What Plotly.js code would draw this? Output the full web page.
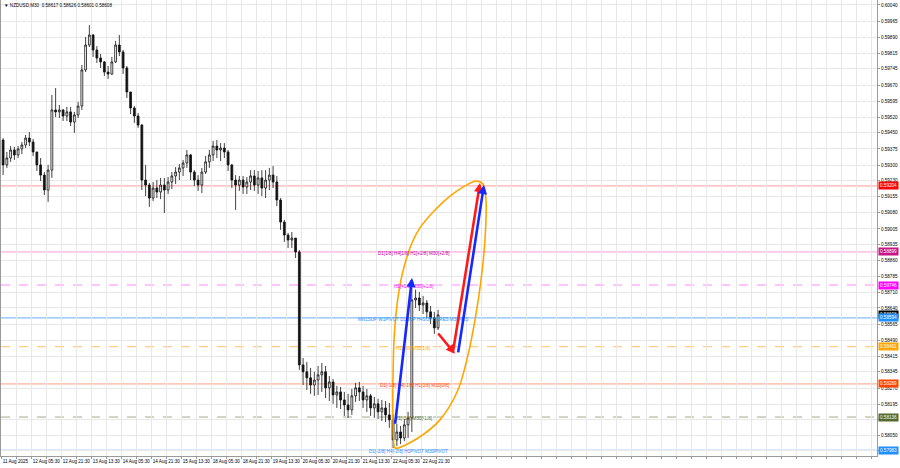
<!DOCTYPE html>
<html><head><meta charset="utf-8">
<script src="https://cdn.plot.ly/plotly-3.0.1.min.js"></script>
<style>html,body{margin:0;padding:0;background:#fff;}#chart{width:900px;height:468px;}</style>
</head><body><div id="chart"></div>
<script>
// ---- data ----
const symbol = "NZDUSD,M30";
const lastBarOHLC = [0.58617, 0.58626, 0.58601, 0.58608];
const barsPerCandle = 4;
const open = [0.59416,0.59301,0.59333,0.59370,0.59347,0.59375,0.59393,0.59425,0.59407,0.59361,
0.59301,0.59254,0.59185,0.59277,0.59555,0.59546,0.59555,0.59527,0.59546,0.59499,
0.59532,0.59573,0.59740,0.59855,0.59901,0.59832,0.59795,0.59777,0.59730,0.59721,
0.59777,0.59855,0.59823,0.59749,0.59638,0.59564,0.59527,0.59485,0.59231,0.59208,
0.59148,0.59194,0.59176,0.59208,0.59185,0.59222,0.59250,0.59268,0.59287,0.59310,
0.59347,0.59268,0.59231,0.59208,0.59268,0.59315,0.59347,0.59388,0.59370,0.59379,
0.59361,0.59301,0.59231,0.59208,0.59231,0.59199,0.59222,0.59250,0.59208,0.59241,
0.59194,0.59231,0.59254,0.59222,0.59139,0.59037,0.58977,0.58954,0.58963,0.58899,
0.58377,0.58345,0.58317,0.58284,0.58307,0.58331,0.58345,0.58271,0.58298,0.58238,
0.58252,0.58215,0.58192,0.58169,0.58234,0.58271,0.58252,0.58215,0.58234,0.58178,
0.58197,0.58160,0.58178,0.58146,0.58123,0.58030,0.58067,0.58039,0.58100,0.58132,
0.58677,0.58686,0.58654,0.58663,0.58622,0.58594,0.58548];
const high = [0.59425,0.59361,0.59388,0.59384,0.59388,0.59407,0.59439,0.59453,0.59421,0.59361,
0.59333,0.59268,0.59301,0.59624,0.59656,0.59578,0.59559,0.59569,0.59569,0.59546,
0.59592,0.59763,0.59892,0.59947,0.59906,0.59850,0.59814,0.59781,0.59758,0.59800,
0.59874,0.59901,0.59832,0.59758,0.59638,0.59573,0.59541,0.59490,0.59301,0.59218,
0.59222,0.59231,0.59241,0.59241,0.59245,0.59268,0.59291,0.59305,0.59324,0.59370,
0.59351,0.59277,0.59254,0.59287,0.59342,0.59370,0.59412,0.59416,0.59402,0.59402,
0.59370,0.59305,0.59254,0.59250,0.59250,0.59245,0.59277,0.59277,0.59273,0.59277,
0.59277,0.59287,0.59296,0.59250,0.59148,0.59047,0.58987,0.58991,0.58963,0.58908,
0.58409,0.58391,0.58363,0.58345,0.58372,0.58386,0.58372,0.58326,0.58312,0.58280,
0.58275,0.58252,0.58243,0.58266,0.58294,0.58298,0.58280,0.58266,0.58243,0.58229,
0.58220,0.58215,0.58210,0.58201,0.58150,0.58104,0.58095,0.58127,0.58160,0.58735,
0.58725,0.58714,0.58695,0.58677,0.58649,0.58622,0.58631];
const low = [0.59254,0.59287,0.59315,0.59324,0.59333,0.59351,0.59379,0.59388,0.59342,0.59273,
0.59227,0.59162,0.59130,0.59241,0.59522,0.59518,0.59504,0.59504,0.59481,0.59449,
0.59518,0.59555,0.59730,0.59846,0.59800,0.59772,0.59749,0.59712,0.59698,0.59716,
0.59772,0.59804,0.59721,0.59610,0.59536,0.59495,0.59472,0.59185,0.59157,0.59107,
0.59134,0.59148,0.59143,0.59079,0.59167,0.59190,0.59213,0.59231,0.59250,0.59287,
0.59231,0.59204,0.59181,0.59171,0.59259,0.59287,0.59319,0.59333,0.59319,0.59333,
0.59273,0.59194,0.59093,0.59181,0.59167,0.59167,0.59185,0.59181,0.59167,0.59157,
0.59148,0.59185,0.59194,0.59111,0.59001,0.58945,0.58917,0.58917,0.58871,0.58354,
0.58284,0.58261,0.58243,0.58234,0.58238,0.58252,0.58224,0.58210,0.58197,0.58178,
0.58173,0.58141,0.58132,0.58146,0.58206,0.58210,0.58178,0.58160,0.58141,0.58132,
0.58127,0.58118,0.58113,0.58086,0.57993,0.58002,0.58011,0.58025,0.58039,0.58067,
0.58640,0.58626,0.58612,0.58594,0.58566,0.58520,0.58538];
const close = [0.59301,0.59333,0.59370,0.59347,0.59375,0.59393,0.59425,0.59407,0.59361,0.59301,
0.59254,0.59185,0.59277,0.59555,0.59546,0.59555,0.59527,0.59546,0.59499,0.59532,
0.59573,0.59740,0.59855,0.59901,0.59832,0.59795,0.59777,0.59730,0.59721,0.59777,
0.59855,0.59823,0.59749,0.59638,0.59564,0.59527,0.59485,0.59231,0.59208,0.59148,
0.59194,0.59176,0.59208,0.59185,0.59222,0.59250,0.59268,0.59287,0.59310,0.59347,
0.59268,0.59231,0.59208,0.59268,0.59315,0.59347,0.59388,0.59370,0.59379,0.59361,
0.59301,0.59231,0.59208,0.59231,0.59199,0.59222,0.59250,0.59208,0.59241,0.59194,
0.59231,0.59254,0.59222,0.59139,0.59037,0.58977,0.58954,0.58963,0.58899,0.58377,
0.58345,0.58317,0.58284,0.58307,0.58331,0.58345,0.58271,0.58298,0.58238,0.58252,
0.58215,0.58192,0.58169,0.58234,0.58271,0.58252,0.58215,0.58234,0.58178,0.58197,
0.58160,0.58178,0.58146,0.58123,0.58030,0.58067,0.58039,0.58100,0.58132,0.58677,
0.58686,0.58654,0.58663,0.58622,0.58594,0.58548,0.58608];

const dateLabels = ["11 Aug 2025","12 Aug 05:30","12 Aug 21:30","13 Aug 13:30","14 Aug 05:30","14 Aug 21:30","15 Aug 13:30","18 Aug 05:30","18 Aug 21:30","19 Aug 13:30","20 Aug 05:30","20 Aug 21:30","21 Aug 13:30","22 Aug 05:30","22 Aug 21:30"];
const priceTicks = [0.60040,0.59965,0.59890,0.59815,0.59745,0.59670,0.59595,0.59520,0.59450,0.59375,0.59300,0.59230,0.59155,0.59080,0.59005,0.58935,0.58860,0.58785,0.58710,0.58640,0.58565,0.58490,0.58415,0.58345,0.58270,0.58195,0.58125,0.58050,0.57980];
const hiddenTicks = [0.58125, 0.57980];   // covered by level boxes in the original

const levelPrices = [0.59204, 0.58899, 0.58746, 0.58594, 0.58461, 0.58289, 0.58136, 0.57983];
const levelNames = ["", "D1[1/8] H4[1/8] H1[+2/8] M30[+2/8]", "H1[+1/8] M30[+1/8]", "MN1SUP W1PIVOT D1SUP H4SUP H1RES M30RES", "H1[1/8] M30[1/8]", "D1[-1/8] H4[-1/8] H1[0/8] M30[0/8]", "H1[-1/8] M30[-1/8]", "D1[-2/8] H4[-2/8] H1PIVOT M30PIVOT"];
const levelLabelBar = [0, 440, 439, 439, 439, 440, 439, 434];

// projection drawing (bar index, price)
const ellipseBar = [419.5,417.4,417.4,418.5,421.7,425.9,435.5,446.1,462.2,478.2,494.2,505.9,513.4,516.6,515.5,511.3,504.9,497.4,486.7,467.5,444.1,422.7,419.5];
const ellipsePrice = [0.57993,0.58123,0.58307,0.58492,0.58654,0.58769,0.58917,0.59010,0.59093,0.59157,0.59204,0.59227,0.59213,0.59139,0.58954,0.58769,0.58585,0.58423,0.58261,0.58123,0.58039,0.57993,0.57993];
const arrowTailBar = [419.5, 464.3, 481.4, 486.7];
const arrowTailPrice = [0.58098, 0.58529, 0.58437, 0.58428];
const arrowHeadBar = [437.7, 483.5, 510.2, 514.4];
const arrowHeadPrice = [0.58779, 0.58428, 0.59218, 0.59208];

// ---- styles ----
const levelLineColors = ['#ff9c9c','#ff9ad8','#ff8cff','#6aaeff','#ffc060','#ffa080','#a8aa88','#8cc0ff'];
const levelDash = ['solid','solid','dash','solid','dash','solid','dash','solid'];
const levelTextColors = ['#ff0000','#c000a0','#ff00ff','#1e90ff','#ffa500','#ff4500','#556b2f','#1e90ff'];
const levelBoxColors = ['#ff0000','#c71585','#ff00ff','#1e90ff','#ffa500','#ff4500','#556b2f','#1e90ff'];
const arrowColors = ['#1428ff','#ff1a1a','#ff1a1a','#1428ff'];
const FONT = '"Liberation Sans", Arial, sans-serif';
const FS = 4.6;

const candleBar = open.map((_, i) => i * barsPerCandle + 1.5);

const xMin = -0.75, xMax = 933.7;
const tickvals = [], ticktext = [];
for (let b = 0, i = 0; b <= xMax; b += 16, i++) {
  tickvals.push(b);
  ticktext.push(i % 2 === 0 && i / 2 < dateLabels.length ? dateLabels[i / 2] : '');
}

const traces = [
  {
    type: 'candlestick', x: candleBar, open: open, high: high, low: low, close: close,
    increasing: {line: {color: '#111111', width: 0.8}, fillcolor: '#ffffff'},
    decreasing: {line: {color: '#111111', width: 0.8}, fillcolor: '#111111'},
    whiskerwidth: 0, hoverinfo: 'skip'
  },
  {
    type: 'scatter', mode: 'lines', x: ellipseBar, y: ellipsePrice,
    line: {color: '#ffa500', width: 1.6, shape: 'spline', smoothing: 0.9}, hoverinfo: 'skip'
  }
];

const shapes = levelPrices.map((p, i) => ({
  type: 'line', xref: 'paper', x0: 0, x1: 1, yref: 'y', y0: p, y1: p,
  line: {color: levelLineColors[i], width: 1, dash: levelDash[i]}, layer: 'below'
}));

const annotations = [];
levelPrices.forEach((p, i) => {
  if (levelNames[i]) annotations.push({
    xref: 'x', yref: 'y', x: levelLabelBar[i], y: p, yshift: -1.5, text: levelNames[i],
    showarrow: false, font: {family: FONT, size: FS, color: levelTextColors[i]}
  });
});
// right axis price boxes
const boxPrices = levelPrices.concat([close[close.length - 1]]);
const boxColors = levelBoxColors.concat(['#000000']);
const order = [0,1,2,8,3,4,5,6,7];
order.forEach(i => {
  annotations.push({
    xref: 'paper', yref: 'y', x: 1, xanchor: 'left', xshift: 1, y: boxPrices[i],
    text: boxPrices[i].toFixed(5), showarrow: false, bgcolor: boxColors[i], borderpad: 1,
    font: {family: FONT, size: FS, color: '#ffffff'}
  });
});
// arrows
arrowHeadBar.forEach((hb, i) => {
  annotations.push({
    xref: 'x', yref: 'y', x: hb, y: arrowHeadPrice[i], axref: 'x', ayref: 'y',
    ax: arrowTailBar[i], ay: arrowTailPrice[i], text: '', showarrow: true,
    arrowhead: 2, arrowsize: 0.7, arrowwidth: 2.6, arrowcolor: arrowColors[i]
  });
});
// title
annotations.push({
  xref: 'paper', yref: 'paper', x: 0, y: 1, xanchor: 'left', yanchor: 'top', xshift: 1, yshift: -1,
  text: '\u25BC ' + symbol + '  ' + lastBarOHLC.map(v => v.toFixed(5)).join(' '),
  showarrow: false, font: {family: FONT, size: FS, color: '#000000'}
});

const layout = {
  width: 900, height: 468,
  margin: {l: 1, r: 23, t: 0, b: 12, pad: 0},
  paper_bgcolor: '#ffffff', plot_bgcolor: '#ffffff',
  showlegend: false, hovermode: false,
  font: {family: FONT, size: FS, color: '#000000'},
  xaxis: {
    range: [xMin, xMax], tickvals: tickvals, ticktext: ticktext, tickangle: 0,
    showgrid: true, gridcolor: '#e8e8e8', gridwidth: 1, zeroline: false,
    showline: true, linecolor: '#9a9a9a', linewidth: 1, mirror: true,
    ticks: 'outside', ticklen: 2, tickcolor: '#9a9a9a', ticklabelposition: 'outside right',
    tickfont: {family: FONT, size: FS, color: '#000000'},
    rangeslider: {visible: false}, automargin: false, fixedrange: true
  },
  yaxis: {
    side: 'right', range: [0.57956, 0.60063], tickvals: priceTicks,
    ticktext: priceTicks.map(v => hiddenTicks.includes(v) ? '' : v.toFixed(5)),
    showgrid: true, gridcolor: '#e8e8e8', gridwidth: 1, zeroline: false,
    showline: true, linecolor: '#9a9a9a', linewidth: 1, mirror: true,
    ticks: 'outside', ticklen: 2, tickcolor: '#9a9a9a',
    tickfont: {family: FONT, size: FS, color: '#000000'},
    automargin: false, fixedrange: true
  },
  shapes: shapes,
  annotations: annotations
};

Plotly.newPlot('chart', traces, layout, {staticPlot: true, displayModeBar: false});
</script>
</body></html>
